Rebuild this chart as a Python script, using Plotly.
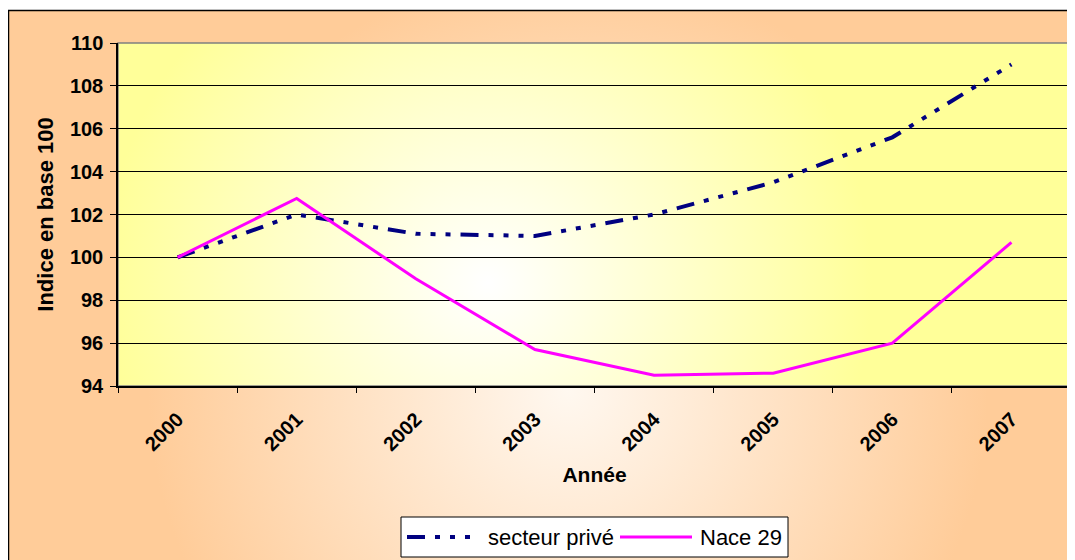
import base64
import plotly.graph_objects as go

# Data
annees = ['2000', '2001', '2002', '2003', '2004', '2005', '2006', '2007']
secteur_prive = [100.0, 102.0, 101.1, 101.0, 102.0, 103.5, 105.6, 109.0]
nace_29 = [100.0, 102.75, 99.0, 95.7, 94.5, 94.6, 96.0, 100.7]
noms = ['secteur privé', 'Nace 29']
couleurs = ['#000080', '#FF00FF']
tirets = ['18px,10px,5px,10px,5px,10px,5px,10px', 'solid']
epaisseurs = [4, 3]

# the page body adds an 8px margin, so the figure is sized to fit inside it
OFF = 8
W, H = 1075 - OFF, 560 - OFF
ML, MT = 118 - OFF, 43 - OFF
MR = W - (1071 - OFF)
MB = H - (386 - OFF)
PW, PH = W - ML - MR, H - MT - MB


# helpers: reference-page pixels -> paper coordinates
def px_x(x):
    return (x - OFF - ML) / PW


def px_y(y):
    return (H - MB - (y - OFF)) / PH


def svg_uri(svg):
    return 'data:image/svg+xml;base64,' + base64.b64encode(svg.encode()).decode()


# outer peach background with light centre
paper_svg = '''<svg xmlns="http://www.w3.org/2000/svg" width="1100" height="560">
<defs><radialGradient id="g" gradientUnits="userSpaceOnUse" cx="560" cy="380" r="560">
<stop offset="0" stop-color="#FFF8F0"/><stop offset="0.75" stop-color="#FFCC99"/>
<stop offset="1" stop-color="#FFCC99"/></radialGradient></defs>
<rect width="1100" height="560" fill="url(#g)"/></svg>'''

# plot area yellow with white centre
plot_svg = f'''<svg xmlns="http://www.w3.org/2000/svg" width="{PW}" height="{PH}" preserveAspectRatio="none">
<defs><radialGradient id="g" gradientUnits="userSpaceOnUse" cx="370" cy="240" r="480">
<stop offset="0" stop-color="#FFFFFF"/><stop offset="0.8" stop-color="#FFFF99"/>
<stop offset="1" stop-color="#FFFF99"/></radialGradient></defs>
<rect width="{PW}" height="{PH}" fill="url(#g)"/></svg>'''

fig = go.Figure()
for nom, serie, coul, tiret, ep in zip(noms, [secteur_prive, nace_29], couleurs, tirets, epaisseurs):
    fig.add_trace(go.Scatter(x=annees, y=serie, mode='lines', name=nom, showlegend=False,
                             line=dict(color=coul, width=ep, dash=tiret)))

fig.add_layout_image(dict(source=svg_uri(paper_svg), xref='paper', yref='paper',
                          x=px_x(8), y=px_y(10), sizex=1100 / PW, sizey=560 / PH,
                          xanchor='left', yanchor='top', sizing='stretch', layer='below'))
fig.add_layout_image(dict(source=svg_uri(plot_svg), xref='paper', yref='paper',
                          x=0, y=1, sizex=1, sizey=1,
                          xanchor='left', yanchor='top', sizing='stretch', layer='below'))

# outer frame and plot-area frame
fig.add_shape(type='rect', xref='paper', yref='paper',
              x0=px_x(8.5), y0=px_y(580), x1=px_x(1100), y1=px_y(10.5),
              line=dict(color='black', width=1.5), fillcolor='rgba(0,0,0,0)')
fig.add_shape(type='rect', xref='paper', yref='paper', x0=0, y0=0, x1=1, y1=1,
              line=dict(color='#808080', width=1.5), fillcolor='rgba(0,0,0,0)', layer='below')

# legend box drawn by hand (Excel-style long line samples)
fig.add_shape(type='rect', xref='paper', yref='paper',
              x0=px_x(401), y0=px_y(557), x1=px_x(788), y1=px_y(517),
              line=dict(color='black', width=1), fillcolor='white')
leg_x = [(407, 480, 486), (620, 692, 698)]
for (a, b, t), nom, coul, tiret, ep in zip(leg_x, noms, couleurs, tirets, epaisseurs):
    fig.add_shape(type='line', xref='paper', yref='paper',
                  x0=px_x(a), x1=px_x(b), y0=px_y(537), y1=px_y(537),
                  line=dict(color=coul, width=ep, dash=tiret))
    fig.add_annotation(text=nom, xref='paper', yref='paper', x=px_x(t), y=px_y(537),
                       xanchor='left', yanchor='middle', showarrow=False,
                       font=dict(family='Liberation Sans, Arial', size=22, color='black'))

tick_font = dict(family='Liberation Sans, Arial', size=20, color='black', weight='bold')

fig.update_layout(
    width=W, height=H,
    margin=dict(l=ML, r=MR, t=MT, b=MB),
    paper_bgcolor='white',
    plot_bgcolor='rgba(0,0,0,0)',
    showlegend=False,
    xaxis=dict(type='category', range=[-0.5, 7.5], tickson='boundaries', ticks='outside',
               ticklen=5, tickcolor='black', showline=True, linecolor='black', linewidth=1.5,
               showgrid=False, tickangle=-45, tickfont=tick_font, ticklabelstandoff=12,
               title=dict(text='Année',
                          font=dict(family='Liberation Sans, Arial', size=21,
                                    color='black', weight='bold'),
                          standoff=13)),
    yaxis=dict(range=[94, 110], dtick=2, ticks='outside', ticklen=6, tickcolor='black',
               showline=True, linecolor='black', linewidth=1.5,
               showgrid=True, gridcolor='black', gridwidth=1, zeroline=False,
               tickfont=tick_font, ticklabelstandoff=3,
               title=dict(text='Indice en base 100',
                          font=dict(family='Liberation Sans, Arial', size=22,
                                    color='black', weight='bold'),
                          standoff=10)),
)

fig.write_html('out.html')
